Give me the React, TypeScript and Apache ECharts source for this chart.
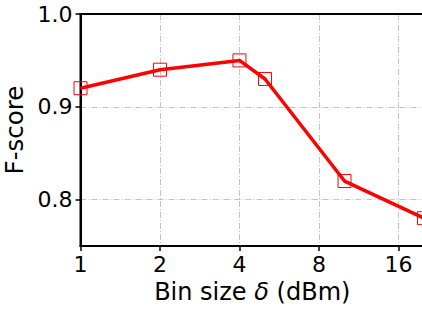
import React, { useEffect, useRef } from "react";
import * as echarts from "echarts";

const binSizes = [1, 2, 4, 5, 10, 20];
const fScores = [0.92, 0.94, 0.95, 0.93, 0.82, 0.78];
const xTicks = [1, 2, 4, 8, 16];
const yTicks = [0.8, 0.9, 1.0];

const FONT = "DejaVu Sans";

export default function App() {
  const ref = useRef<HTMLDivElement>(null);
  useEffect(() => {
    if (!ref.current) return;
    const chart = echarts.init(ref.current, undefined, { renderer: "svg" });
    const gridLine = { show: true, lineStyle: { color: "#c4c4c4", width: 1, type: [6, 2, 1, 2] as any } };
    chart.setOption({
      animation: false,
      backgroundColor: "#ffffff",
      grid: {
        left: 80.5,
        top: 14,
        right: -2,
        bottom: 66,
        outerBoundsMode: "none",
        containLabel: false,
        show: true,
        borderColor: "#000",
        borderWidth: 2,
        backgroundColor: "transparent",
      },
      xAxis: [
        {
          type: "log",
          logBase: 2,
          min: 1,
          max: 20,
          name: "Bin size {i|δ} (dBm)",
          nameLocation: "middle",
          nameGap: 33,
          nameTextStyle: {
            fontFamily: FONT,
            fontSize: 24,
            color: "#000",
            rich: { i: { fontFamily: FONT, fontSize: 24, fontStyle: "italic", color: "#000" } },
          },
          axisLine: { show: true, lineStyle: { color: "#000", width: 2 } },
          axisTick: { show: true, length: 5, lineStyle: { color: "#000", width: 1.5 }, customValues: xTicks },
          axisLabel: {
            customValues: xTicks,
            fontFamily: FONT,
            fontSize: 22,
            color: "#000",
            margin: 7,
            formatter: (v: number) => String(Math.round(v)),
          },
          splitLine: gridLine,
        },
        {
          type: "log",
          logBase: 2,
          min: 1,
          max: 20,
          position: "top",
          z: 5,
          axisLine: { show: true, lineStyle: { color: "#000", width: 2 } },
          axisTick: { show: false },
          axisLabel: { show: false },
          splitLine: { show: false },
        },
      ],
      yAxis: {
        type: "value",
        min: 0.75,
        max: 1.0,
        name: "F-score",
        nameLocation: "middle",
        nameGap: 43,
        nameTextStyle: { fontFamily: FONT, fontSize: 24.5, color: "#000" },
        axisLine: { show: true, lineStyle: { color: "#000", width: 2 } },
        axisTick: { show: true, length: 5, lineStyle: { color: "#000", width: 1.5 }, customValues: yTicks },
        axisLabel: {
          customValues: yTicks,
          fontFamily: FONT,
          fontSize: 22,
          color: "#000",
          margin: 8,
          formatter: (v: number) => v.toFixed(1),
        },
        splitLine: gridLine,
      },
      series: [
        {
          type: "line",
          xAxisIndex: 0,
          data: binSizes.map((x, i) => [x, fScores[i]]),
          lineStyle: { color: "#ff0000", width: 3.5 },
          symbol: "rect",
          symbolSize: 13,
          itemStyle: { color: "rgba(0,0,0,0)", borderColor: "#ff0000", borderWidth: 1 },
          clip: false,
          z: 3,
        },
      ],
    });
    return () => chart.dispose();
  }, []);
  return (
    <div
      ref={ref}
      style={{ position: "fixed", left: 0, top: 0, width: 422, height: 312 }}
    />
  );
}
